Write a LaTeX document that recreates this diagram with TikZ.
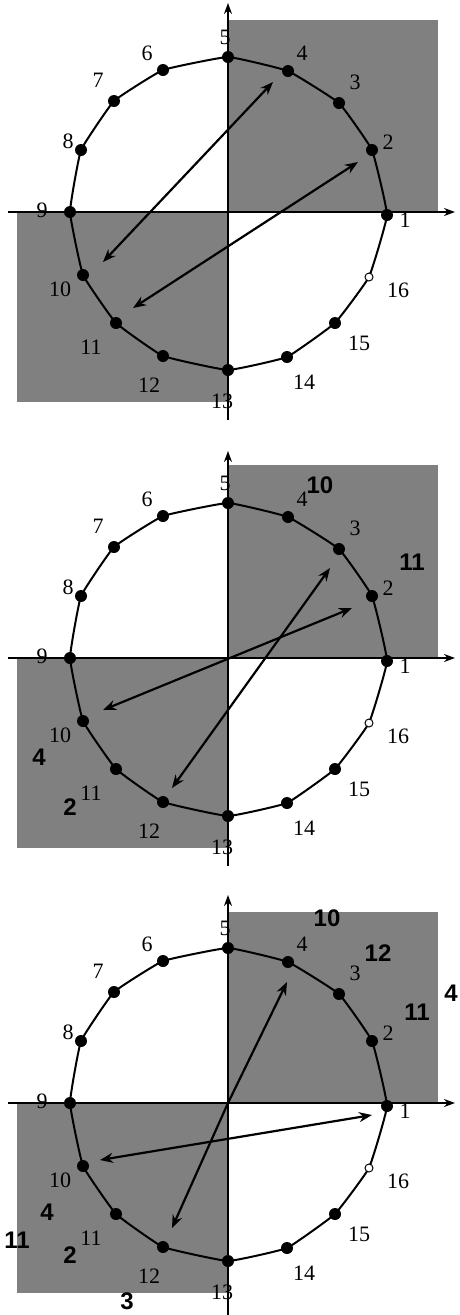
\documentclass[tikz,border=0pt]{standalone}
\usepackage{fontspec}
\setmainfont{Liberation Serif}
\newfontfamily\boldsans{Liberation Sans}
\usetikzlibrary{arrows.meta}
\tikzset{
  shade/.style={fill=black!50, draw=none},
  axis/.style={line width=2.4pt, -{Stealth[length=11pt,width=8pt]}},
  curve/.style={line width=2pt},
  dot/.style={circle, fill=black, inner sep=0pt, minimum size=12pt},
  hollow/.style={circle, draw=black, fill=white, line width=1pt, inner sep=0pt, minimum size=8pt},
  num/.style={font=\fontsize{22}{22}\selectfont, inner sep=0pt},
  bnum/.style={font=\boldsans\bfseries\fontsize{24}{24}\selectfont, inner sep=0pt},
  vec/.style={line width=2.2pt, {Stealth[length=13pt,width=10pt]}-{Stealth[length=13pt,width=10pt]}}
}
\newcommand\basepanel[1]{%
  \fill[shade] (228,#1) rectangle (438,212);
  \fill[shade] (17,212) rectangle (228,402);
  \draw[curve] plot[smooth cycle, tension=0.18] coordinates {(387,215) (372,150) (339,103) (288,71) (228,57) (163,70) (114,101) (81,150) (70,212) (83,275) (116,323) (163,356) (228,370) (287,357) (335,323) (369,277)};
  \node[dot] (p1) at (387,215) {};
  \node[dot] (p2) at (372,150) {};
  \node[dot] (p3) at (339,103) {};
  \node[dot] (p4) at (288,71) {};
  \node[dot] (p5) at (228,57) {};
  \node[dot] (p6) at (163,70) {};
  \node[dot] (p7) at (114,101) {};
  \node[dot] (p8) at (81,150) {};
  \node[dot] (p9) at (70,212) {};
  \node[dot] (p10) at (83,275) {};
  \node[dot] (p11) at (116,323) {};
  \node[dot] (p12) at (163,356) {};
  \node[dot] (p13) at (228,370) {};
  \node[dot] (p14) at (287,357) {};
  \node[dot] (p15) at (335,323) {};
  \node[hollow] (p16) at (369,277) {};
  \node[num] (l1) at (405,220) {1};
  \node[num] (l2) at (388,142) {2};
  \node[num] (l3) at (355,82) {3};
  \node[num] (l4) at (302,53) {4};
  \node[num] (l5) at (225,37) {5};
  \node[num] (l6) at (147,53) {6};
  \node[num] (l7) at (98,80) {7};
  \node[num] (l8) at (68,141) {8};
  \node[num] (l9) at (42,210) {9};
  \node[num] (l10) at (60,289) {10};
  \node[num] (l11) at (91,347) {11};
  \node[num] (l12) at (149,385) {12};
  \node[num] (l13) at (222,401) {13};
  \node[num] (l14) at (304,382) {14};
  \node[num] (l15) at (359,343) {15};
  \node[num] (l16) at (398,290) {16};
  \coordinate (o) at (228,212);
  \coordinate (xl) at (8,212);
  \coordinate (xr) at (455,212);
  \draw[axis] (xl) -- (xr);
}
\begin{document}
\begin{tikzpicture}[x=1pt,y=-1pt]
\useasboundingbox (0,0) rectangle (459,1315);
% Panel 1
\begin{scope}[name prefix=a-]
  \basepanel{20}
  \coordinate (vb) at (228,420);
  \coordinate (vt) at (228,3);
  \draw[axis] (vb) -- (vt);
  \coordinate (e1) at (103,262);
  \coordinate (f1) at (273,82);
  \coordinate (e2) at (133,308);
  \coordinate (f2) at (358,162);
  \draw[vec] (e1) -- (f1);
  \draw[vec] (e2) -- (f2);
\end{scope}
% Panel 2
\begin{scope}[yshift=-446pt, name prefix=b-]
  \basepanel{19}
  \coordinate (vb) at (228,420);
  \coordinate (vt) at (228,5);
  \draw[axis] (vb) -- (vt);
  \coordinate (e1) at (103,264);
  \coordinate (f1) at (352,162);
  \coordinate (e2) at (172,342);
  \coordinate (f2) at (330,122);
  \draw[vec] (e1) -- (f1);
  \draw[vec] (e2) -- (f2);
  \node[bnum] (m10) at (320,39) {10};
  \node[bnum] (m11) at (412,116) {11};
  \node[bnum] (m4) at (39,311) {4};
  \node[bnum] (m2) at (70,361) {2};
\end{scope}
% Panel 3
\begin{scope}[yshift=-891pt, name prefix=c-]
  \basepanel{21}
  \coordinate (vb) at (228,424);
  \coordinate (vt) at (228,4);
  \draw[axis] (vb) -- (vt);
  \coordinate (e1) at (172,337);
  \coordinate (f1) at (287,91);
  \coordinate (e2) at (100,269);
  \coordinate (f2) at (372,224);
  \draw[vec] (e1) -- (o) -- (f1);
  \draw[vec] (e2) -- (f2);
  \node[bnum] (m10) at (327,27) {10};
  \node[bnum] (m12) at (378,62) {12};
  \node[bnum] (m4a) at (451,102) {4};
  \node[bnum] (m11a) at (417,121) {11};
  \node[bnum] (m4b) at (47,321) {4};
  \node[bnum] (m11b) at (17,349) {11};
  \node[bnum] (m2) at (70,364) {2};
  \node[bnum] (m3) at (127,410) {3};
\end{scope}
\end{tikzpicture}
\end{document}
